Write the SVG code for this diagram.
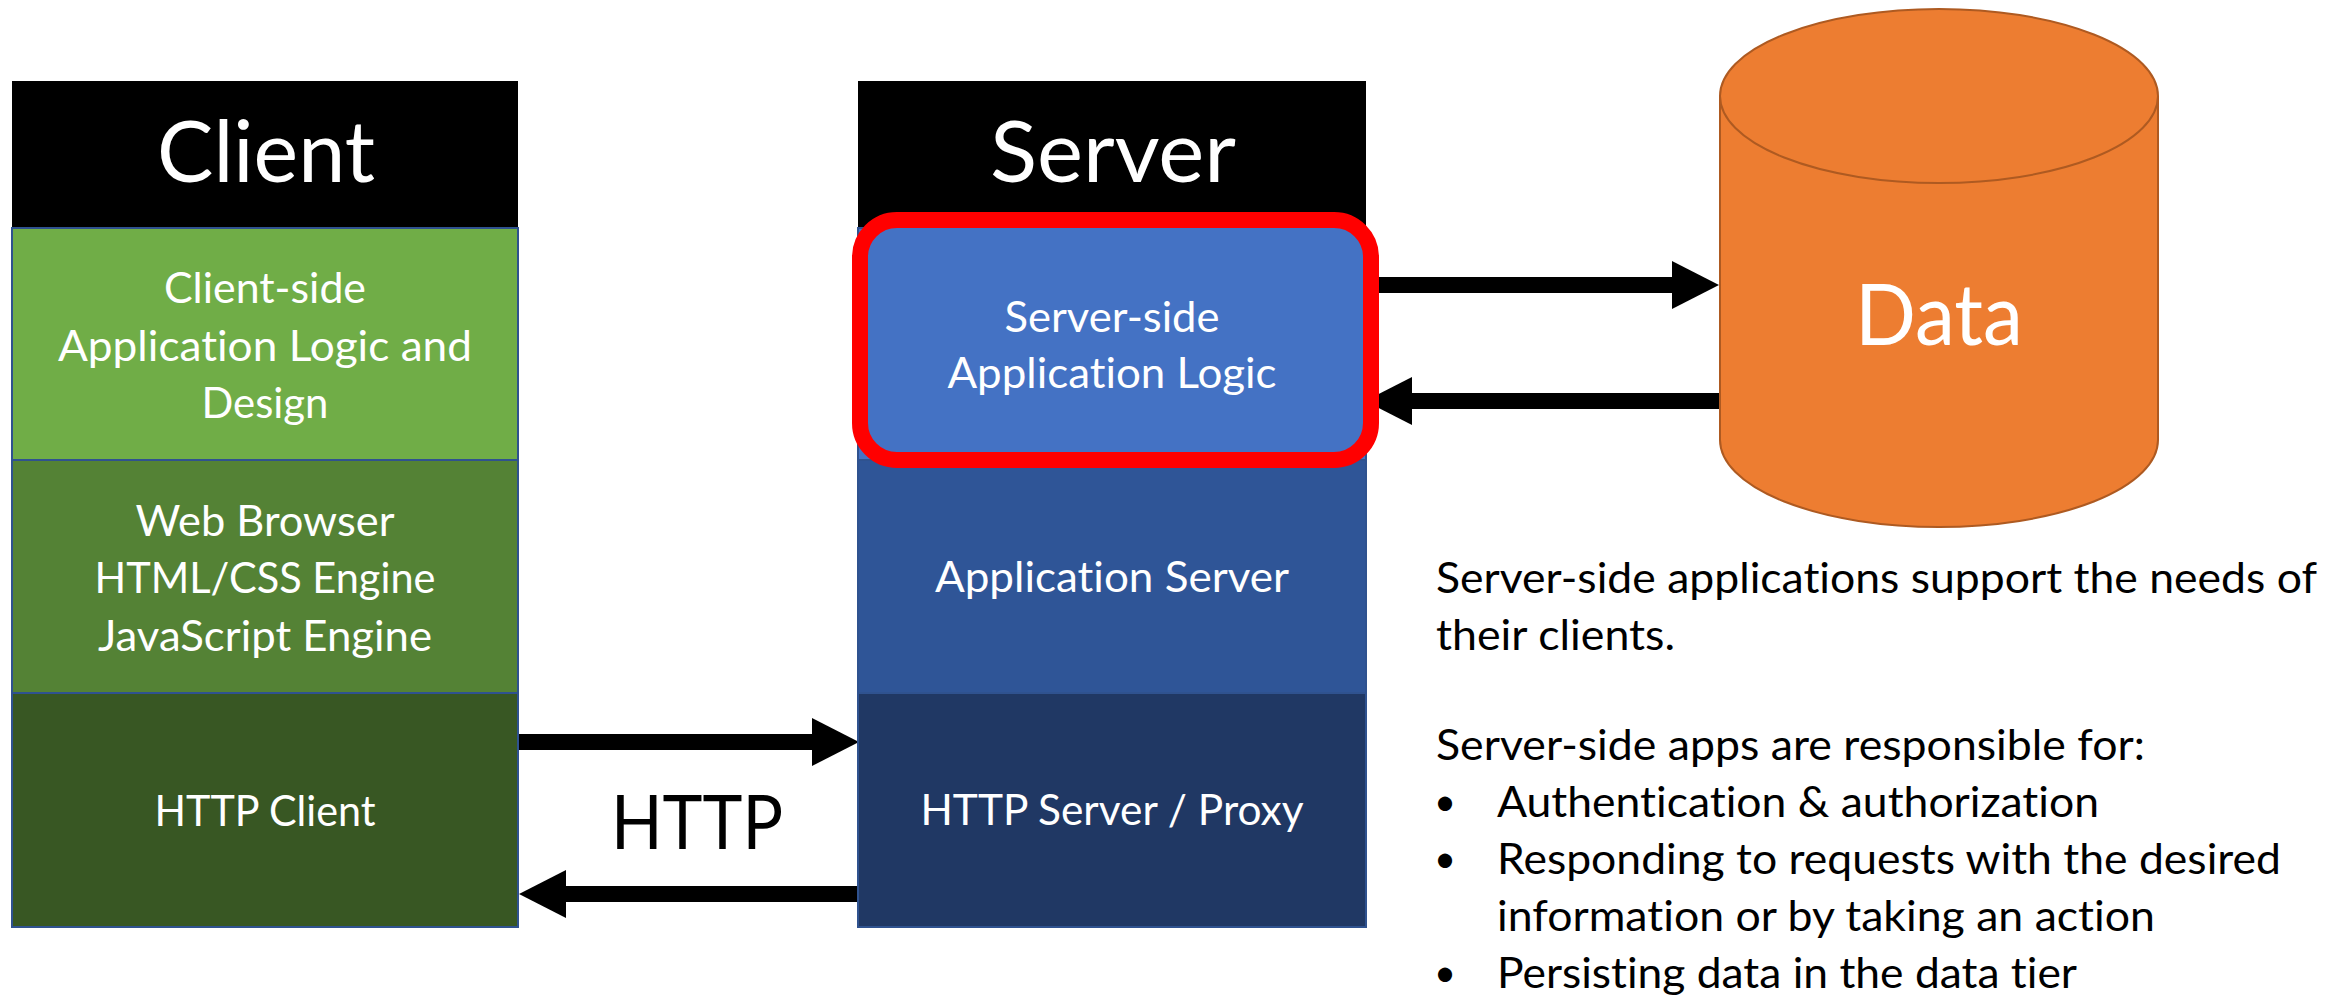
<svg xmlns="http://www.w3.org/2000/svg" width="2349" height="998" viewBox="0 0 2349 998">
  <style>
    text { font-variant-ligatures: none; font-feature-settings: "liga" 0, "dlig" 0; }
    .head { fill: #000000; }
    .layer { stroke: #2F528F; stroke-width: 2; }
    .label { font-family: Lato, "Open Sans", "Liberation Sans", sans-serif; fill: #FFFFFF; text-anchor: middle; }
    .title { font-size: 86px; }
    .body { font-size: 43px; }
    .note { font-family: Lato, "Open Sans", "Liberation Sans", sans-serif; font-size: 43px; fill: #000000; }
    .dot { font-family: Lato, "Open Sans", "Liberation Sans", sans-serif; font-size: 38px; fill: #000000; }
    .wire { stroke: #000000; stroke-width: 16; fill: none; marker-end: url(#arrowhead); }
  </style>
  <defs>
    <marker id="arrowhead" markerUnits="userSpaceOnUse" markerWidth="47" markerHeight="48" viewBox="0 0 47 48" refX="0" refY="24" orient="auto">
      <path d="M0,0 L47,24 L0,48 Z" fill="#000000"/>
    </marker>
  </defs>
  <rect width="2349" height="998" fill="#FFFFFF"/>

  <!-- request / response arrows -->
  <g id="connectors">
    <line class="wire" x1="518" y1="742" x2="812" y2="742"/>
    <line class="wire" x1="858" y1="894" x2="566" y2="894"/>
    <line class="wire" x1="1366" y1="285" x2="1672" y2="285"/>
    <line class="wire" x1="1719" y1="401" x2="1412" y2="401"/>
    <text x="697" y="849" font-family="Lato, 'Open Sans', 'Liberation Sans', sans-serif" font-size="75" fill="#000000" text-anchor="middle" textLength="172" lengthAdjust="spacingAndGlyphs">HTTP</text>
  </g>

  <!-- client stack -->
  <g id="client">
    <rect class="head" x="12" y="81" width="506" height="147"/>
    <text class="label title" x="266" y="182" textLength="218" lengthAdjust="spacingAndGlyphs">Client</text>
  </g>
  <g id="client-app-logic">
    <rect class="layer" x="12" y="228" width="506" height="232" fill="#70AD47"/>
    <text class="label body" x="265" y="303" textLength="202" lengthAdjust="spacingAndGlyphs">Client-side</text>
    <text class="label body" x="265" y="361" textLength="414" lengthAdjust="spacingAndGlyphs">Application Logic and</text>
    <text class="label body" x="265" y="418" textLength="127" lengthAdjust="spacingAndGlyphs">Design</text>
  </g>
  <g id="web-browser">
    <rect class="layer" x="12" y="460" width="506" height="233" fill="#548235"/>
    <text class="label body" x="265" y="536" textLength="259" lengthAdjust="spacingAndGlyphs">Web Browser</text>
    <text class="label body" x="265" y="593" textLength="341" lengthAdjust="spacingAndGlyphs">HTML/CSS Engine</text>
    <text class="label body" x="265" y="651" textLength="334" lengthAdjust="spacingAndGlyphs">JavaScript Engine</text>
  </g>
  <g id="http-client">
    <rect class="layer" x="12" y="693" width="506" height="234" fill="#385723"/>
    <text class="label body" x="265" y="826" textLength="221" lengthAdjust="spacingAndGlyphs">HTTP Client</text>
  </g>

  <!-- server stack -->
  <g id="server">
    <rect class="head" x="858" y="81" width="508" height="147"/>
    <text class="label title" x="1113" y="182" textLength="246" lengthAdjust="spacingAndGlyphs">Server</text>
  </g>
  <g id="application-server">
    <rect class="layer" x="858" y="460" width="508" height="233" fill="#2F5597"/>
    <text class="label body" x="1112" y="592" textLength="354" lengthAdjust="spacingAndGlyphs">Application Server</text>
  </g>
  <g id="http-server">
    <rect class="layer" x="858" y="693" width="508" height="234" fill="#203864"/>
    <text class="label body" x="1112" y="825" textLength="383" lengthAdjust="spacingAndGlyphs">HTTP Server / Proxy</text>
  </g>
  <g id="server-app-logic">
    <rect class="layer" x="858" y="228" width="508" height="232" fill="#4472C4"/>
    <rect x="860" y="220" width="511" height="240" rx="37" ry="37" fill="#4472C4" stroke="#FF0000" stroke-width="16"/>
    <text class="label body" x="1112" y="332" textLength="215" lengthAdjust="spacingAndGlyphs">Server-side</text>
    <text class="label body" x="1112" y="388" textLength="329" lengthAdjust="spacingAndGlyphs">Application Logic</text>
  </g>

  <!-- data store -->
  <g id="data">
    <path d="M1720,96 L1720,440 A219,87 0 0 0 2158,440 L2158,96 A219,87 0 0 0 1720,96 Z" fill="#ED7D31" stroke="#AE5A21" stroke-width="2"/>
    <path d="M1720,96 A219,87 0 0 0 2158,96" fill="none" stroke="#AE5A21" stroke-width="2"/>
    <text class="label" x="1939" y="345" font-size="85" textLength="168" lengthAdjust="spacingAndGlyphs">Data</text>
  </g>

  <!-- description -->
  <g id="notes">
    <text class="note" x="1436" y="593" textLength="881" lengthAdjust="spacingAndGlyphs">Server-side applications support the needs of</text>
    <text class="note" x="1436" y="650" textLength="239" lengthAdjust="spacingAndGlyphs">their clients.</text>
    <text class="note" x="1436" y="760" textLength="709" lengthAdjust="spacingAndGlyphs">Server-side apps are responsible for:</text>
    <text class="dot" x="1434" y="815">•</text>
    <text class="note" x="1497" y="817" textLength="602" lengthAdjust="spacingAndGlyphs">Authentication &amp; authorization</text>
    <text class="dot" x="1434" y="872">•</text>
    <text class="note" x="1497" y="874" textLength="784" lengthAdjust="spacingAndGlyphs">Responding to requests with the desired</text>
    <text class="note" x="1497" y="931" textLength="658" lengthAdjust="spacingAndGlyphs">information or by taking an action</text>
    <text class="dot" x="1434" y="986">•</text>
    <text class="note" x="1497" y="988" textLength="580" lengthAdjust="spacingAndGlyphs">Persisting data in the data tier</text>
  </g>
</svg>
